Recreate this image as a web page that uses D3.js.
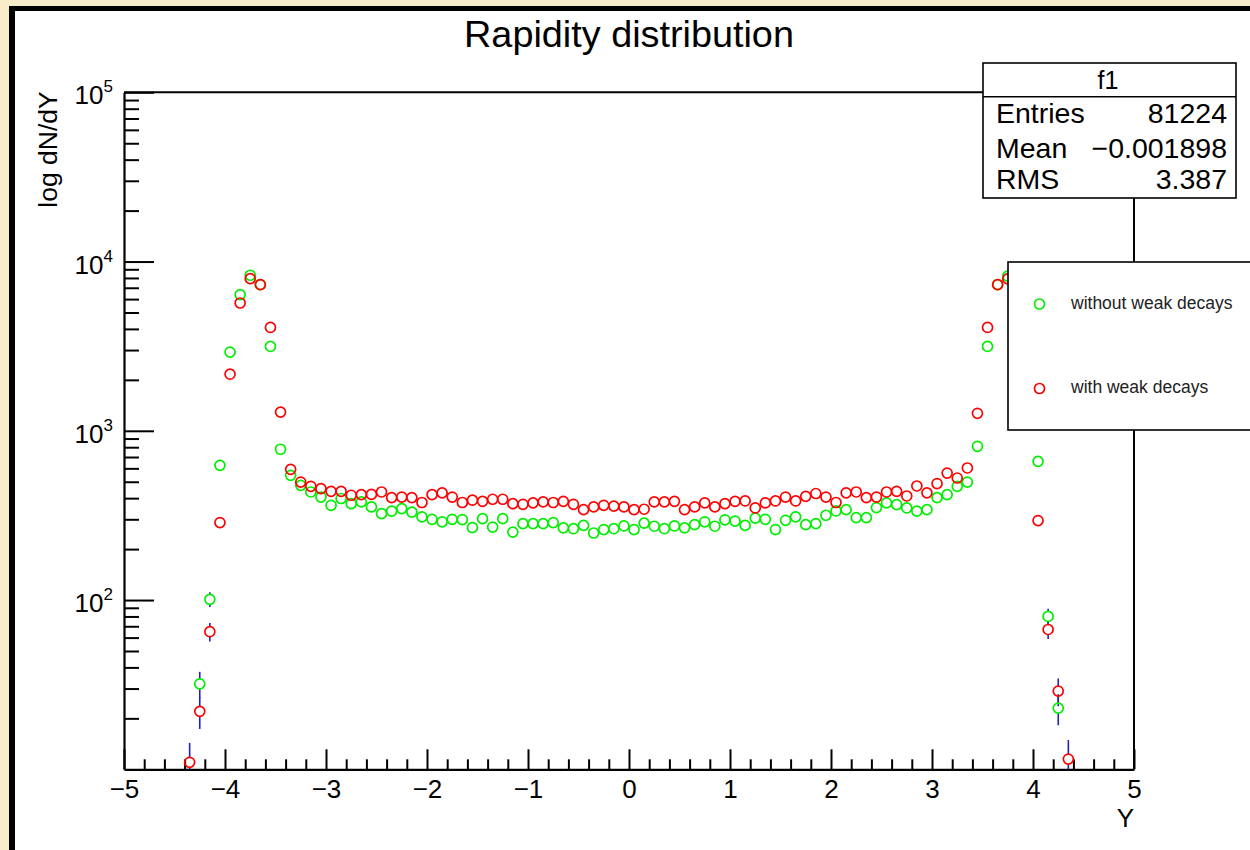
<!DOCTYPE html>
<html>
<head>
<meta charset="utf-8">
<script src="https://cdn.jsdelivr.net/npm/d3@7"></script>
<style>
  html, body { margin: 0; padding: 0; background: #f6ecca; }
  svg { display: block; }
  text { font-family: "Liberation Sans", Arial, Helvetica, sans-serif; }
</style>
</head>
<body>
<svg id="chart" width="1250" height="850"></svg>
<script>
// Rapidity bin centres (bin width 0.1), only the populated bins
const rapidityBins = [
  -4.35, -4.25, -4.15, -4.05, -3.95, -3.85, -3.75, -3.65, -3.55, -3.45,
  -3.35, -3.25, -3.15, -3.05, -2.95, -2.85, -2.75, -2.65, -2.55, -2.45,
  -2.35, -2.25, -2.15, -2.05, -1.95, -1.85, -1.75, -1.65, -1.55, -1.45,
  -1.35, -1.25, -1.15, -1.05, -0.95, -0.85, -0.75, -0.65, -0.55, -0.45,
  -0.35, -0.25, -0.15, -0.05,  0.05,  0.15,  0.25,  0.35,  0.45,  0.55,
   0.65,  0.75,  0.85,  0.95,  1.05,  1.15,  1.25,  1.35,  1.45,  1.55,
   1.65,  1.75,  1.85,  1.95,  2.05,  2.15,  2.25,  2.35,  2.45,  2.55,
   2.65,  2.75,  2.85,  2.95,  3.05,  3.15,  3.25,  3.35,  3.45,  3.55,
   3.65,  3.75,  3.85,  3.95,  4.05,  4.15,  4.25,  4.35
];

// Counts per bin, without weak decays (null = empty / below range)
const withoutWeak = [
  null, 32, 101, 625, 2920, 6380, 8300, 7300, 3150, 778,
  546, 476, 435, 406, 363, 398, 371, 380, 355, 324,
  335, 347, 331, 310, 300, 290, 300, 299, 268, 303,
  270, 303, 252, 283, 283, 283, 287, 267, 264, 276,
  249, 261, 264, 274, 261, 285, 273, 264, 274, 267,
  279, 290, 273, 298, 293, 276, 305, 300, 261, 296,
  310, 279, 283, 317, 336, 342, 307, 307, 352, 375,
  366, 350, 335, 342, 403, 420, 470, 498, 810, 3150,
  7300, 8200, 6300, 2900, 660, 80, 23, null
];

// Counts per bin, with weak decays
const withWeak = [
  11, 22, 65, 287, 2160, 5690, 7930, 7310, 4080, 1290,
  592, 498, 470, 455, 439, 439, 416, 420, 421, 435,
  403, 406, 403, 377, 420, 430, 406, 377, 389, 383,
  394, 394, 371, 368, 375, 380, 377, 383, 368, 342,
  355, 363, 359, 355, 342, 344, 380, 380, 383, 342,
  355, 375, 355, 371, 383, 385, 350, 375, 385, 406,
  385, 410, 426, 406, 377, 430, 435, 403, 406, 435,
  439, 412, 472, 430, 488, 563, 526, 603, 1269, 4080,
  7310, 7900, 5700, 2200, 295, 67, 29, 11.5
];

const xMajorTicks = [-5, -4, -3, -2, -1, 0, 1, 2, 3, 4, 5];
const yMajorTicks = [100, 1000, 10000, 100000];
const yTickExponents = ["2", "3", "4", "5"];

const statsRows = [
  { label: "Entries", value: "81224" },
  { label: "Mean", value: "\u22120.001898" },
  { label: "RMS", value: "3.387" }
];

const legendEntries = [
  { label: "without weak decays", color: "#00ee00" },
  { label: "with weak decays", color: "#ff0000" }
];

const seriesList = [
  { values: withoutWeak, color: "#00ee00" },
  { values: withWeak, color: "#ff0000" }
];

// ---- layout ----
const W = 1250, H = 850;
const plot = { left: 124, right: 1134, top: 92.3, bottom: 769.3 };
const markerR = 5;

const svg = d3.select("#chart");

// canvas background with black pad frame
svg.append("rect").attr("x", 0).attr("y", 0).attr("width", W).attr("height", H).attr("fill", "#f6ecca");
svg.append("rect").attr("x", 9).attr("y", 6).attr("width", W + 50).attr("height", H + 50).attr("fill", "#000");
svg.append("rect").attr("x", 15).attr("y", 11).attr("width", W + 50).attr("height", H + 50).attr("fill", "#fff");

const x = d3.scaleLinear().domain([-5, 5]).range([plot.left, plot.right]);
const y = d3.scaleLog().domain([10, 100000]).range([plot.bottom, plot.top]);

// title
svg.append("text")
  .attr("x", 629).attr("y", 46.5)
  .attr("text-anchor", "middle")
  .attr("font-size", 37.8)
  .attr("fill", "#000")
  .text("Rapidity distribution");

// top and right frame lines
svg.append("line").attr("x1", plot.left).attr("x2", plot.right).attr("y1", plot.top).attr("y2", plot.top)
  .attr("stroke", "#000").attr("stroke-width", 2);
svg.append("line").attr("x1", plot.right).attr("x2", plot.right).attr("y1", plot.top).attr("y2", plot.bottom)
  .attr("stroke", "#000").attr("stroke-width", 2);

// ---- x axis ----
const xMinor = d3.range(-48, 50, 2).map(d => d / 10).filter(d => Math.abs(d - Math.round(d)) > 1e-6);

const xMinorAxis = d3.axisBottom(x).tickValues(xMinor).tickSizeInner(-10).tickSizeOuter(0).tickFormat(() => "");
const gxMinor = svg.append("g").attr("transform", `translate(0,${plot.bottom})`).call(xMinorAxis);
gxMinor.select(".domain").remove();

const xAxis = d3.axisBottom(x).tickValues(xMajorTicks).tickSizeInner(-20).tickSizeOuter(0).tickPadding(10);
const gx = svg.append("g").attr("transform", `translate(0,${plot.bottom})`).call(xAxis);
gx.selectAll("text").attr("font-size", 26).attr("fill", "#000")
  .attr("font-family", '"Liberation Sans", Arial, sans-serif');

svg.selectAll(".tick line").attr("stroke", "#000").attr("stroke-width", 2);
gx.select(".domain").attr("stroke", "#000").attr("stroke-width", 2.2);

svg.append("text")
  .attr("x", plot.right).attr("y", 827)
  .attr("text-anchor", "end")
  .attr("font-size", 26)
  .text("Y");

// ---- y axis ----
const yMinor = [];
[10, 100, 1000, 10000].forEach(dec => { for (let m = 2; m <= 9; m++) yMinor.push(m * dec); });

const yMinorAxis = d3.axisLeft(y).tickValues(yMinor).tickSizeInner(-15).tickSizeOuter(0).tickFormat(() => "");
const gyMinor = svg.append("g").attr("transform", `translate(${plot.left},0)`).call(yMinorAxis);
gyMinor.select(".domain").remove();

const yAxis = d3.axisLeft(y).tickValues(yMajorTicks).tickSizeInner(-30).tickSizeOuter(0).tickPadding(11).tickFormat(() => "");
const gy = svg.append("g").attr("transform", `translate(${plot.left},0)`).call(yAxis);
gy.selectAll(".tick text").each(function (d, i) {
  const t = d3.select(this)
    .attr("font-size", 26).attr("fill", "#000").attr("dy", 11.5)
    .attr("font-family", '"Liberation Sans", Arial, sans-serif');
  t.append("tspan").text("10");
  t.append("tspan").attr("dy", -12).attr("font-size", 17).text(yTickExponents[i]);
});
svg.selectAll(".tick line").attr("stroke", "#000").attr("stroke-width", 2);
gy.select(".domain").attr("stroke", "#000").attr("stroke-width", 2.2);

svg.append("text")
  .attr("transform", `translate(57,${plot.top - 1}) rotate(-90)`)
  .attr("text-anchor", "end")
  .attr("font-size", 26.5)
  .text("log dN/dY");

// ---- data ----
svg.append("clipPath").attr("id", "plotClip")
  .append("rect").attr("x", plot.left).attr("y", plot.top)
  .attr("width", plot.right - plot.left).attr("height", plot.bottom - plot.top);

const dataG = svg.append("g").attr("clip-path", "url(#plotClip)");

function points(values) {
  return rapidityBins.map((b, i) => ({ b, v: values[i] })).filter(p => p.v != null && p.v >= 10);
}

// Poisson error bars, left open inside the marker
seriesList.forEach(s => {
  const segs = [];
  points(s.values).forEach(p => {
    const err = Math.sqrt(p.v);
    const cy = y(p.v);
    const yHi = y(p.v + err);
    const yLo = p.v - err > 10 ? y(p.v - err) : plot.bottom + 10;
    if (cy - markerR > yHi) segs.push({ b: p.b, y1: yHi, y2: cy - markerR });
    if (yLo > cy + markerR) segs.push({ b: p.b, y1: cy + markerR, y2: yLo });
  });
  dataG.selectAll(null).data(segs).join("line")
    .attr("x1", d => x(d.b)).attr("x2", d => x(d.b))
    .attr("y1", d => d.y1).attr("y2", d => d.y2)
    .attr("stroke", "#2222bb").attr("stroke-width", 1.6);
});

seriesList.forEach(s => {
  dataG.selectAll(null).data(points(s.values)).join("circle")
    .attr("cx", d => x(d.b)).attr("cy", d => y(d.v)).attr("r", markerR)
    .attr("fill", "none").attr("stroke", s.color).attr("stroke-width", 1.7);
});

// ---- statistics box ----
const stats = svg.append("g");
stats.append("rect").attr("x", 983).attr("y", 63).attr("width", 253).attr("height", 135)
  .attr("fill", "#fff").attr("stroke", "#000").attr("stroke-width", 1.6);
stats.append("line").attr("x1", 983).attr("x2", 1236).attr("y1", 96.7).attr("y2", 96.7)
  .attr("stroke", "#000").attr("stroke-width", 1.6);
stats.append("text").attr("x", 1108).attr("y", 89).attr("text-anchor", "middle")
  .attr("font-size", 25).text("f1");
const rowBase = [122.7, 158.3, 189.3];
statsRows.forEach((r, i) => {
  stats.append("text").attr("x", 996).attr("y", rowBase[i]).attr("font-size", 28.5).text(r.label);
  stats.append("text").attr("x", 1227).attr("y", rowBase[i]).attr("text-anchor", "end")
    .attr("font-size", 28.5).text(r.value);
});

// ---- legend ----
const legend = svg.append("g");
legend.append("rect").attr("x", 1008).attr("y", 262).attr("width", 300).attr("height", 168)
  .attr("fill", "#fff").attr("stroke", "#000").attr("stroke-width", 1.6);
const legendRowY = [304, 388.5];
legendEntries.forEach((e, i) => {
  legend.append("circle").attr("cx", 1039.5).attr("cy", legendRowY[i]).attr("r", markerR)
    .attr("fill", "none").attr("stroke", e.color).attr("stroke-width", 1.7);
  legend.append("text").attr("x", 1071).attr("y", legendRowY[i] + 4.5)
    .attr("font-size", 17.5).attr("fill", "#222").text(e.label);
});
</script>
</body>
</html>
